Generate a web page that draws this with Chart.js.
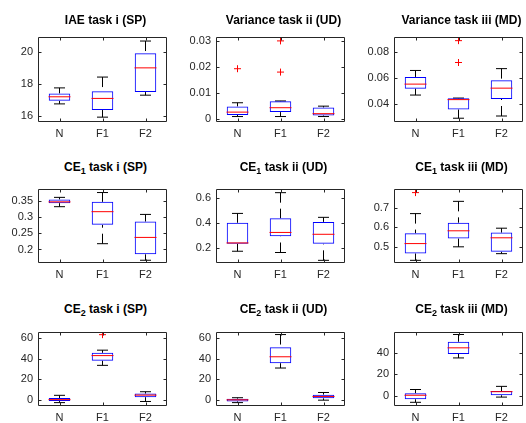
<!DOCTYPE html>
<html>
<head>
<meta charset="utf-8">
<script src="https://cdn.jsdelivr.net/npm/chart.js@4.4.1/dist/chart.umd.min.js"></script>
<style>
  html, body { margin: 0; padding: 0; background: #fff; overflow: hidden; }
  #fig { position: relative; width: 526px; height: 423px; overflow: hidden; }
  #fig canvas { position: absolute; }
  .title {
    position: absolute; width: 200px; text-align: center; white-space: nowrap;
    font: bold 12px "Liberation Sans", Arial, sans-serif; line-height: 14px; color: #000;
  }
  .title sub { font-size: 9px; vertical-align: baseline; position: relative; top: 3px; }
</style>
</head>
<body>
<div id="fig"></div>
<script>
const categories = ["N", "F1", "F2"];

// IAE task i (SP)
const iaeSpLow = [16.76, 15.94, 17.30];
const iaeSpQ1 = [16.95, 16.38, 17.49];
const iaeSpMed = [17.20, 17.10, 18.99];
const iaeSpQ3 = [17.41, 17.54, 19.90];
const iaeSpHigh = [17.75, 18.42, 20.65];
const iaeSpOut = [[], [], []];
const iaeSpTicks = [16, 18, 20];

// Variance task ii (UD)
const varUdLow = [0.0008, 0.0008, 0.0008];
const varUdQ1 = [0.0014, 0.0025, 0.0012];
const varUdMed = [0.0025, 0.0042, 0.0019];
const varUdQ3 = [0.0047, 0.0067, 0.0043];
const varUdHigh = [0.0061, 0.0068, 0.0048];
const varUdOut = [[0.0192], [0.0299, 0.0179], []];
const varUdTicks = [0, 0.01, 0.02, 0.03];

// Variance task iii (MD)
const varMdLow = [0.0471, 0.0293, 0.0310];
const varMdQ1 = [0.0520, 0.0360, 0.0441];
const varMdMed = [0.0555, 0.0436, 0.0524];
const varMdQ3 = [0.0610, 0.0446, 0.0584];
const varMdHigh = [0.0660, 0.0448, 0.0674];
const varMdOut = [[], [0.0889, 0.0721], []];
const varMdTicks = [0.04, 0.06, 0.08];

// CE1 task i (SP)
const ce1SpLow = [0.333, 0.218, 0.1665];
const ce1SpQ1 = [0.344, 0.2765, 0.185];
const ce1SpMed = [0.348, 0.3175, 0.2375];
const ce1SpQ3 = [0.3556, 0.348, 0.2868];
const ce1SpHigh = [0.362, 0.377, 0.309];
const ce1SpOut = [[], [], []];
const ce1SpTicks = [0.2, 0.25, 0.3, 0.35];

// CE1 task ii (UD)
const ce1UdLow = [0.177, 0.167, 0.105];
const ce1UdQ1 = [0.2355, 0.295, 0.2355];
const ce1UdMed = [0.2426, 0.3256, 0.311];
const ce1UdQ3 = [0.402, 0.4376, 0.409];
const ce1UdHigh = [0.476, 0.640, 0.445];
const ce1UdOut = [[], [], []];
const ce1UdTicks = [0.2, 0.4, 0.6];

// CE1 task iii (MD)
const ce1MdLow = [0.431, 0.500, 0.465];
const ce1MdQ1 = [0.466, 0.542, 0.4745];
const ce1MdMed = [0.5165, 0.5817, 0.546];
const ce1MdQ3 = [0.5693, 0.623, 0.5725];
const ce1MdHigh = [0.6695, 0.732, 0.595];
const ce1MdOut = [[0.7766], [], []];
const ce1MdTicks = [0.5, 0.6, 0.7];

// CE2 task i (SP)
const ce2SpLow = [-2.9, 33.4, -1.8];
const ce2SpQ1 = [-1.4, 37.9, 2.4];
const ce2SpMed = [0.0, 42.9, 4.4];
const ce2SpQ3 = [1.5, 45.6, 5.9];
const ce2SpHigh = [4.2, 48.2, 7.7];
const ce2SpOut = [[], [63.3], []];
const ce2SpTicks = [0, 20, 40, 60];

// CE2 task ii (UD)
const ce2UdLow = [-2.7, 31.1, -0.3];
const ce2UdQ1 = [-1.5, 35.8, 1.5];
const ce2UdMed = [0.0, 42.1, 3.3];
const ce2UdQ3 = [1.2, 51.3, 5.1];
const ce2UdHigh = [2.1, 63.8, 7.2];
const ce2UdOut = [[], [], []];
const ce2UdTicks = [0, 20, 40, 60];

// CE2 task iii (MD)
const ce2MdLow = [-5.9, 35.0, -1.1];
const ce2MdQ1 = [-3.1, 38.6, 0.6];
const ce2MdMed = [0.6, 44.3, 3.9];
const ce2MdQ3 = [2.5, 49.9, 4.5];
const ce2MdHigh = [5.9, 56.6, 8.8];
const ce2MdOut = [[], [], []];
const ce2MdTicks = [0, 20, 40];

const panels = [
  { title: "IAE task i (SP)", low: iaeSpLow, q1: iaeSpQ1, med: iaeSpMed, q3: iaeSpQ3, high: iaeSpHigh, out: iaeSpOut, ticks: iaeSpTicks, ymin: 15.64, ymax: 20.9 },
  { title: "Variance task ii (UD)", low: varUdLow, q1: varUdQ1, med: varUdMed, q3: varUdQ3, high: varUdHigh, out: varUdOut, ticks: varUdTicks, ymin: -0.0013, ymax: 0.0314 },
  { title: "Variance task iii (MD)", low: varMdLow, q1: varMdQ1, med: varMdMed, q3: varMdQ3, high: varMdHigh, out: varMdOut, ticks: varMdTicks, ymin: 0.0264, ymax: 0.0917 },
  { title: "CE<sub>1</sub> task i (SP)", low: ce1SpLow, q1: ce1SpQ1, med: ce1SpMed, q3: ce1SpQ3, high: ce1SpHigh, out: ce1SpOut, ticks: ce1SpTicks, ymin: 0.158, ymax: 0.388 },
  { title: "CE<sub>1</sub> task ii (UD)", low: ce1UdLow, q1: ce1UdQ1, med: ce1UdMed, q3: ce1UdQ3, high: ce1UdHigh, out: ce1UdOut, ticks: ce1UdTicks, ymin: 0.084, ymax: 0.669 },
  { title: "CE<sub>1</sub> task iii (MD)", low: ce1MdLow, q1: ce1MdQ1, med: ce1MdMed, q3: ce1MdQ3, high: ce1MdHigh, out: ce1MdOut, ticks: ce1MdTicks, ymin: 0.4174, ymax: 0.795 },
  { title: "CE<sub>2</sub> task i (SP)", low: ce2SpLow, q1: ce2SpQ1, med: ce2SpMed, q3: ce2SpQ3, high: ce2SpHigh, out: ce2SpOut, ticks: ce2SpTicks, ymin: -6.2, ymax: 65.9 },
  { title: "CE<sub>2</sub> task ii (UD)", low: ce2UdLow, q1: ce2UdQ1, med: ce2UdMed, q3: ce2UdQ3, high: ce2UdHigh, out: ce2UdOut, ticks: ce2UdTicks, ymin: -6.0, ymax: 66.3 },
  { title: "CE<sub>2</sub> task iii (MD)", low: ce2MdLow, q1: ce2MdQ1, med: ce2MdMed, q3: ce2MdQ3, high: ce2MdHigh, out: ce2MdOut, ticks: ce2MdTicks, ymin: -9.3, ymax: 58.9 },
];

// axes placement (matlab subplot grid)
const colLeft = [38, 216, 394];
const rowTop = [29, 181, 324];
const rowHeight = [93, 82, 82];
const titleBaseline = [24, 171, 313];
const axW = 135;
const padL = 40, padR = 6, padT = 4, padB = 24;

Chart.defaults.font.family = '"Liberation Sans", Arial, sans-serif';
Chart.defaults.font.size = 11;
Chart.defaults.color = "#262626";

// matlab style box with inward tick marks on all four sides
const axesBox = {
  id: "axesBox",
  afterDatasetsDraw(chart) {
    const ctx = chart.ctx;
    const a = chart.chartArea;
    const l = Math.round(a.left) + 0.5, r = Math.round(a.right) - 0.5;
    const t = Math.round(a.top) + 0.5, b = Math.round(a.bottom) - 0.5;
    ctx.save();
    ctx.strokeStyle = "#262626";
    ctx.lineWidth = 1;
    ctx.beginPath();
    ctx.rect(l, t, r - l, b - t);
    const xs = chart.scales.x, ys = chart.scales.y;
    xs.ticks.forEach((tk, i) => {
      const x = Math.round(xs.getPixelForTick(i)) + 0.5;
      ctx.moveTo(x, b); ctx.lineTo(x, b - 3);
      ctx.moveTo(x, t); ctx.lineTo(x, t + 3);
    });
    ys.ticks.forEach((tk) => {
      const y = Math.round(ys.getPixelForValue(tk.value)) + 0.5;
      ctx.moveTo(l, y); ctx.lineTo(l + 3, y);
      ctx.moveTo(r, y); ctx.lineTo(r - 3, y);
    });
    ctx.stroke();
    ctx.restore();
  },
};

const fig = document.getElementById("fig");

panels.forEach((p, i) => {
  const r = Math.floor(i / 3), c = i % 3;
  const w = axW + padL + padR, h = rowHeight[r] + padT + padB;

  const canvas = document.createElement("canvas");
  canvas.width = w; canvas.height = h;
  canvas.style.left = (colLeft[c] - padL) + "px";
  canvas.style.top = (rowTop[r] - padT) + "px";
  canvas.style.width = w + "px"; canvas.style.height = h + "px";
  fig.appendChild(canvas);

  const title = document.createElement("div");
  title.className = "title";
  title.innerHTML = p.title;
  title.style.left = (colLeft[c] + axW / 2 - 100) + "px";
  title.style.top = (titleBaseline[r] - 11) + "px";
  fig.appendChild(title);

  const whiskers = [];
  const caps = [];
  const medians = [];
  const outliers = [];
  categories.forEach((cat, j) => {
    // drawn from the cap toward the box so the dash starts at the cap
    whiskers.push({ x: cat, y: p.high[j] }, { x: cat, y: p.q3[j] }, { x: cat, y: null });
    whiskers.push({ x: cat, y: p.low[j] }, { x: cat, y: p.q1[j] }, { x: cat, y: null });
    caps.push({ x: cat, y: p.high[j] }, { x: cat, y: p.low[j] });
    medians.push({ x: cat, y: p.med[j] });
    p.out[j].forEach((v) => outliers.push({ x: cat, y: v }));
  });

  new Chart(canvas, {
    type: "bar",
    data: {
      labels: categories,
      datasets: [
        {
          type: "line",
          data: medians,
          showLine: false,
          pointStyle: "line",
          pointRadius: 11,
          pointBorderColor: "#ff0000",
          pointBorderWidth: 1,
          order: 0,
        },
        {
          type: "line",
          data: outliers,
          showLine: false,
          pointStyle: "cross",
          pointRadius: 3.5,
          pointBorderColor: "#ff0000",
          pointBorderWidth: 1,
          order: 0,
        },
        {
          data: p.q1.map((v, j) => [v, p.q3[j]]),
          backgroundColor: "rgba(0,0,0,0)",
          borderColor: "#0000ff",
          borderWidth: 1,
          borderSkipped: false,
          barPercentage: 0.5,
          categoryPercentage: 1,
          order: 1,
        },
        {
          type: "line",
          data: caps,
          showLine: false,
          pointStyle: "line",
          pointRadius: 5.5,
          pointBorderColor: "#000",
          pointBorderWidth: 1,
          order: 2,
        },
        {
          type: "line",
          data: whiskers,
          borderColor: "#000",
          borderWidth: 1,
          borderDash: [10, 6],
          pointRadius: 0,
          spanGaps: false,
          order: 3,
        },
      ],
    },
    options: {
      responsive: false,
      devicePixelRatio: 1,
      animation: false,
      events: [],
      layout: { padding: { top: padT, right: padR, left: 0, bottom: 0 } },
      scales: {
        x: {
          type: "category",
          offset: true,
          grid: { display: false, drawTicks: false },
          border: { display: false },
          ticks: { padding: 5, maxRotation: 0 },
          afterFit: (s) => { s.height = padB; },
        },
        y: {
          min: p.ymin,
          max: p.ymax,
          grid: { display: false, drawTicks: false },
          border: { display: false },
          ticks: {
            padding: 5,
            callback: (v) => String(+v.toFixed(4)),
          },
          afterBuildTicks: (s) => { s.ticks = p.ticks.map((v) => ({ value: v })); },
          afterFit: (s) => { s.width = padL; },
        },
      },
      plugins: {
        legend: { display: false },
        tooltip: { enabled: false },
      },
    },
    plugins: [axesBox],
  });
});
</script>
</body>
</html>
